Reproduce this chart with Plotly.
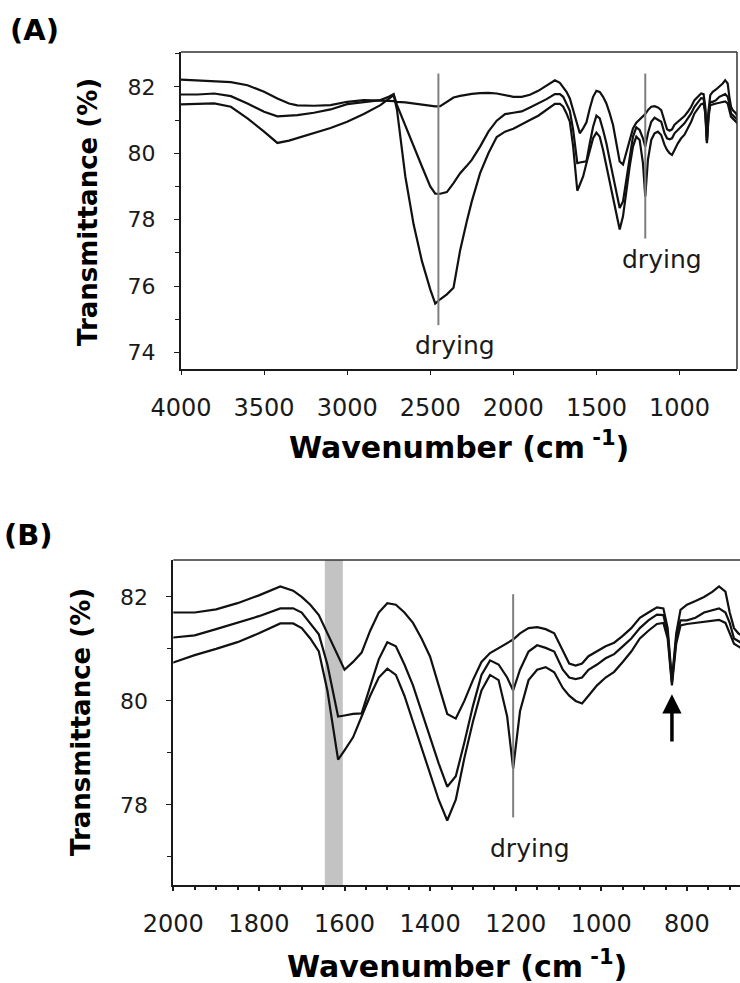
import plotly.graph_objects as go

# ---------------- data ----------------
wavenumber = [4000, 3900, 3800, 3700, 3600, 3500, 3420, 3350, 3300, 3200,
              3100, 3000, 2900, 2800, 2750, 2720, 2700, 2650, 2600, 2550,
              2500, 2470, 2440, 2400, 2360, 2320, 2280, 2250, 2200, 2150,
              2100, 2050, 2000, 1950, 1900, 1850, 1800, 1750, 1720, 1700,
              1680, 1660, 1640, 1615, 1600, 1580, 1560, 1540, 1520, 1500,
              1480, 1460, 1440, 1420, 1400, 1380, 1360, 1340, 1320, 1300,
              1280, 1260, 1240, 1220, 1206, 1190, 1170, 1150, 1130, 1110,
              1090, 1075, 1060, 1045, 1030, 1010, 990, 970, 950, 930,
              910, 890, 870, 855, 845, 835, 825, 815, 800, 780,
              760, 740, 725, 710, 700, 690, 680, 670, 660, 650]

spectrum_1 = [82.22, 82.20, 82.17, 82.14, 82.05, 81.85, 81.65, 81.50, 81.44, 81.43,
              81.45, 81.55, 81.60, 81.60, 81.58, 81.57, 81.55, 81.53, 81.50, 81.47,
              81.43, 81.41, 81.42, 81.55, 81.68, 81.73, 81.77, 81.79, 81.81, 81.82,
              81.80, 81.75, 81.70, 81.70, 81.76, 81.88, 82.03, 82.20, 82.12, 82.00,
              81.85, 81.65, 81.30, 80.85, 80.60, 80.75, 80.93, 81.35, 81.70, 81.88,
              81.85, 81.70, 81.50, 81.20, 80.85, 80.30, 79.75, 79.66, 80.00, 80.40,
              80.75, 80.92, 81.02, 81.12, 81.18, 81.30, 81.40, 81.42, 81.38, 81.30,
              80.95, 80.72, 80.68, 80.72, 80.86, 80.95, 81.05, 81.12, 81.25, 81.40,
              81.60, 81.70, 81.80, 81.78, 81.40, 80.40, 81.30, 81.75, 81.85, 81.92,
              82.00, 82.10, 82.20, 82.10, 81.70, 81.40, 81.30, 81.25, 81.20, 81.10]

spectrum_2 = [81.77, 81.77, 81.80, 81.72, 81.50, 81.25, 81.11, 81.12, 81.15, 81.22,
              81.32, 81.48, 81.55, 81.60, 81.70, 81.78, 81.45, 80.82, 80.20, 79.60,
              79.00, 78.78, 78.78, 78.83, 79.10, 79.40, 79.62, 79.80, 80.20, 80.65,
              80.98, 81.18, 81.22, 81.26, 81.38, 81.50, 81.63, 81.78, 81.78, 81.70,
              81.50, 81.28, 80.70, 79.70, 79.72, 79.75, 79.76, 80.30, 80.80, 81.13,
              81.05, 80.70, 80.30, 79.80, 79.30, 78.80, 78.35, 78.55, 79.20, 79.90,
              80.50, 80.78, 80.70, 80.45, 80.20, 80.60, 80.95, 81.07, 81.02, 80.95,
              80.60, 80.45, 80.42, 80.45, 80.60, 80.70, 80.82, 80.90, 81.05, 81.20,
              81.40, 81.55, 81.66, 81.65, 81.30, 80.35, 81.20, 81.55, 81.55, 81.60,
              81.70, 81.75, 81.78, 81.70, 81.50, 81.20, 81.15, 81.10, 81.05, 81.00]

spectrum_3 = [81.47, 81.48, 81.50, 81.40, 81.05, 80.65, 80.31, 80.38, 80.46, 80.62,
              80.76, 80.95, 81.18, 81.45, 81.65, 81.75, 81.30, 79.30, 77.85, 76.75,
              75.90, 75.47, 75.60, 75.75, 75.95, 77.08, 77.95, 78.55, 79.40, 80.00,
              80.49, 80.65, 80.74, 80.88, 81.00, 81.13, 81.30, 81.49, 81.49, 81.40,
              81.20, 80.95, 80.20, 78.87, 79.05, 79.30, 79.70, 80.10, 80.45, 80.62,
              80.50, 80.10, 79.60, 79.10, 78.60, 78.10, 77.70, 78.10, 78.90, 79.60,
              80.20, 80.50, 80.40, 79.70, 78.70, 79.80, 80.40, 80.60, 80.65, 80.55,
              80.25, 80.10, 80.00, 79.95, 80.10, 80.30, 80.45, 80.56, 80.75, 80.95,
              81.20, 81.35, 81.48, 81.50, 81.20, 80.30, 81.10, 81.45, 81.48, 81.50,
              81.52, 81.55, 81.56, 81.50, 81.30, 81.10, 81.05, 81.00, 80.95, 80.90]

spectra = [spectrum_1, spectrum_2, spectrum_3]

a_xticks = [4000, 3500, 3000, 2500, 2000, 1500, 1000]
a_yticks = [74, 76, 78, 80, 82]
a_yminor = [75, 77, 79, 81, 83]
b_xticks = [2000, 1800, 1600, 1400, 1200, 1000, 800]
b_xminor = [1950, 1900, 1850, 1750, 1700, 1650, 1550, 1500, 1450, 1350, 1300,
            1250, 1150, 1100, 1050, 950, 900, 850, 750, 700]
b_yticks = [78, 80, 82]
b_yminor = [77, 79, 81]

a_drying_lines = [2451, 1206]
b_drying_line = 1206
b_band = [1646, 1604]
b_arrow_wn = 835

# ---------------- figure ----------------
W, H = 740, 983
FONT = "DejaVu Sans"
INK = "#1a1a1a"

fig = go.Figure()
for s in spectra:
    fig.add_trace(go.Scatter(x=wavenumber, y=s, mode="lines", xaxis="x", yaxis="y",
                             line=dict(color="#111111", width=2.2), hoverinfo="skip"))
for s in spectra:
    fig.add_trace(go.Scatter(x=wavenumber, y=s, mode="lines", xaxis="x2", yaxis="y2",
                             line=dict(color="#111111", width=2.2), hoverinfo="skip"))

def px_x(p):
    return p / W

def px_y(p):
    return 1 - p / H

tickfont_x = dict(family=FONT, size=24, color=INK)
tickfont_y = dict(family=FONT, size=22, color=INK)

common = dict(showline=True, linewidth=2, linecolor=INK, showgrid=False, zeroline=False,
              automargin=False, tickcolor=INK)

fig.update_layout(
    width=W, height=H, margin=dict(l=0, r=0, t=0, b=0, autoexpand=False),
    plot_bgcolor="white", paper_bgcolor="white", showlegend=False,
    xaxis=dict(domain=[px_x(181), px_x(737)], range=[4000, 654], anchor="y",
               tickvals=a_xticks, ticks="outside", ticklen=4, tickwidth=1,
               tickfont=tickfont_x, ticklabelstandoff=12, **common),
    yaxis=dict(domain=[px_y(369), px_y(52)], range=[73.5, 83.05], anchor="x",
               tickvals=a_yticks, ticks="outside", ticklen=5, tickwidth=1,
               minor=dict(tickvals=a_yminor, ticks="outside", ticklen=4, tickcolor=INK),
               tickfont=tickfont_y, ticklabelstandoff=14, **common),
    xaxis2=dict(domain=[px_x(173.3), 1.0], range=[2000, 676], anchor="y2",
                tickvals=b_xticks, ticks="outside", ticklen=4, tickwidth=1.5,
                minor=dict(tickvals=b_xminor, ticks="outside", ticklen=3, tickcolor=INK),
                tickfont=tickfont_x, ticklabelstandoff=12, **common),
    yaxis2=dict(domain=[px_y(885), px_y(560)], range=[76.46, 82.71], anchor="x2",
                tickvals=b_yticks, ticks="outside", ticklen=5, tickwidth=1,
                minor=dict(tickvals=b_yminor, ticks="outside", ticklen=4, tickcolor=INK),
                tickfont=tickfont_y, ticklabelstandoff=14, **common),
)

shapes = []
# frame lines (top/right thin)
shapes.append(dict(type="line", xref="x domain", yref="y domain", x0=0, x1=1, y0=1, y1=1,
                   line=dict(color="#333333", width=1.5)))
shapes.append(dict(type="line", xref="x domain", yref="y domain", x0=1, x1=1, y0=0, y1=1,
                   line=dict(color="#333333", width=1.5)))
shapes.append(dict(type="line", xref="x2 domain", yref="y2 domain", x0=0, x1=1, y0=1, y1=1,
                   line=dict(color="#333333", width=1.5)))
# shaded band in B
shapes.append(dict(type="rect", xref="x2", yref="y2 domain", x0=b_band[0], x1=b_band[1],
                   y0=0, y1=1, fillcolor="#c3c3c3", line=dict(width=0), layer="below"))
# drying marker lines
shapes.append(dict(type="line", xref="x", yref="y", x0=a_drying_lines[0], x1=a_drying_lines[0],
                   y0=74.82, y1=82.4, line=dict(color="#7f7f7f", width=2)))
shapes.append(dict(type="line", xref="x", yref="y", x0=a_drying_lines[1], x1=a_drying_lines[1],
                   y0=77.43, y1=82.4, line=dict(color="#7f7f7f", width=2)))
shapes.append(dict(type="line", xref="x2", yref="y2", x0=b_drying_line, x1=b_drying_line,
                   y0=77.76, y1=82.05, line=dict(color="#7f7f7f", width=2)))
fig.update_layout(shapes=shapes)

ann = []
dry_font = dict(family=FONT, size=25, color=INK)
ann.append(dict(text="drying", x=2353, y=74.21, xref="x", yref="y", showarrow=False,
                xanchor="center", yanchor="middle", font=dry_font))
ann.append(dict(text="drying", x=1104, y=76.8, xref="x", yref="y", showarrow=False,
                xanchor="center", yanchor="middle", font=dry_font))
ann.append(dict(text="drying", x=1166, y=77.17, xref="x2", yref="y2", showarrow=False,
                xanchor="center", yanchor="middle", font=dry_font))
# arrow in B
ann.append(dict(text="", x=b_arrow_wn, y=80.13, xref="x2", yref="y2",
                ax=b_arrow_wn, ay=79.19, axref="x2", ayref="y2", showarrow=True,
                arrowhead=2, arrowsize=1.1, arrowwidth=3.5, arrowcolor="#000000"))
# axis titles
ytitle_font = dict(family=FONT, size=26, color="#000", weight="bold")
xtitle_font = dict(family=FONT, size=30, color="#000", weight="bold")
ann.append(dict(text="Transmittance (%)", x=px_x(88), y=px_y(212), xref="paper", yref="paper",
                textangle=-90, showarrow=False, xanchor="center", yanchor="middle",
                font=ytitle_font))
ann.append(dict(text="Transmittance (%)", x=px_x(81), y=px_y(722), xref="paper", yref="paper",
                textangle=-90, showarrow=False, xanchor="center", yanchor="middle",
                font=ytitle_font))
ann.append(dict(text="Wavenumber (cm<sup> -1</sup>)", x=px_x(459), y=px_y(446), xref="paper",
                yref="paper", showarrow=False, xanchor="center", yanchor="middle",
                font=xtitle_font))
ann.append(dict(text="Wavenumber (cm<sup> -1</sup>)", x=px_x(457), y=px_y(964), xref="paper",
                yref="paper", showarrow=False, xanchor="center", yanchor="middle",
                font=xtitle_font))
# panel labels
label_font = dict(family=FONT, size=29, color="#000", weight="bold")
ann.append(dict(text="(A)", x=px_x(8), y=px_y(30), xref="paper", yref="paper", xanchor="left",
                yanchor="middle", showarrow=False, font=label_font))
ann.append(dict(text="(B)", x=px_x(2), y=px_y(535), xref="paper", yref="paper", xanchor="left",
                yanchor="middle", showarrow=False, font=label_font))
fig.update_layout(annotations=ann)

fig.write_html("out.html")
